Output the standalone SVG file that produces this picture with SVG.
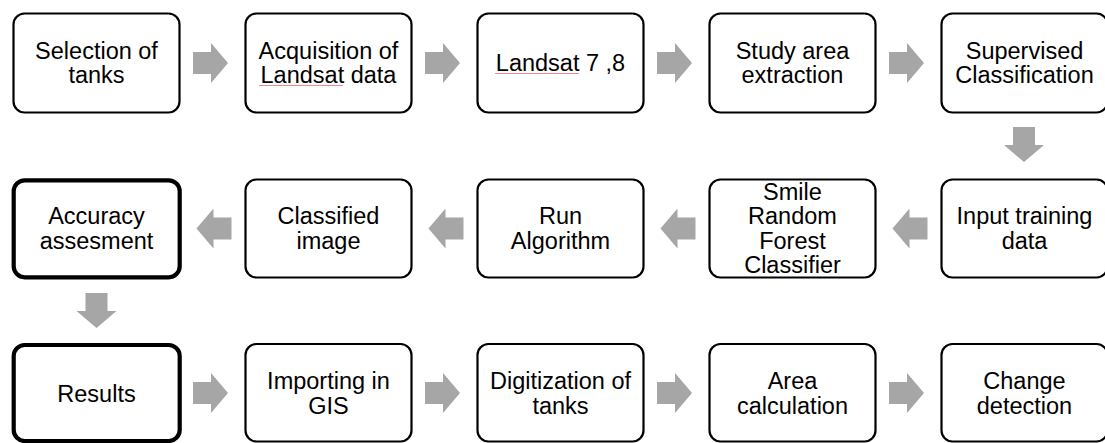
<svg xmlns="http://www.w3.org/2000/svg" width="1105" height="443" viewBox="0 0 1105 443">
<defs>
<style>
.box{fill:#fff;stroke:#000;stroke-width:2.2}
.bold{stroke-width:4.2}
.t{font-family:"Liberation Sans",Arial,sans-serif;font-size:23.5px;fill:#000;text-anchor:middle}
.arr{fill:#a6a6a6}
.sq{stroke:#f08a8a;stroke-width:1;fill:none}
</style>
<path id="ar" d="M-17.5,-11 H0.5 V-20 L17.5,0 L0.5,20 V11 H-17.5 Z"/>
</defs>
<rect width="1105" height="443" fill="#fff"/>
<g id="connectors" class="arr">
<use href="#ar" x="210.5" y="63"/>
<use href="#ar" x="442.5" y="63"/>
<use href="#ar" x="674.5" y="63"/>
<use href="#ar" x="906.5" y="63"/>
<use href="#ar" transform="translate(1024,144.5) rotate(90)"/>
<use href="#ar" transform="translate(910,228.5) rotate(180)"/>
<use href="#ar" transform="translate(678,228.5) rotate(180)"/>
<use href="#ar" transform="translate(446,228.5) rotate(180)"/>
<use href="#ar" transform="translate(214,228.5) rotate(180)"/>
<use href="#ar" transform="translate(96.5,310.5) rotate(90)"/>
<use href="#ar" x="210.5" y="393"/>
<use href="#ar" x="442.5" y="393"/>
<use href="#ar" x="674.5" y="393"/>
<use href="#ar" x="906.5" y="393"/>
</g>
<g id="n1"><rect class="box" x="13.5" y="13.5" width="166" height="99" rx="11"/><text class="t" x="96.5" y="58.5">Selection of</text><text class="t" x="96.5" y="83">tanks</text></g>
<g id="n2"><rect class="box" x="245.5" y="13.5" width="166" height="99" rx="11"/><text class="t" x="328.5" y="58.5">Acquisition of</text><text class="t" x="328.5" y="83">Landsat data</text></g>
<g id="n3"><rect class="box" x="477.5" y="13.5" width="166" height="99" rx="11"/><text class="t" x="560.5" y="71">Landsat 7 ,8</text></g>
<g id="n4"><rect class="box" x="709.5" y="13.5" width="166" height="99" rx="11"/><text class="t" x="792.5" y="58.5">Study area</text><text class="t" x="792.5" y="83">extraction</text></g>
<g id="n5"><rect class="box" x="941.5" y="13.5" width="166" height="99" rx="11"/><text class="t" x="1024.5" y="58.5">Supervised</text><text class="t" x="1024.5" y="83">Classification</text></g>
<g id="n6"><rect class="box bold" x="13.7" y="180.3" width="166" height="97" rx="11"/><text class="t" x="96.5" y="224">Accuracy</text><text class="t" x="96.5" y="248.5">assesment</text></g>
<g id="n7"><rect class="box" x="245.5" y="179.5" width="166" height="98" rx="11"/><text class="t" x="328.5" y="224">Classified</text><text class="t" x="328.5" y="248.5">image</text></g>
<g id="n8"><rect class="box" x="477.5" y="179.5" width="166" height="98" rx="11"/><text class="t" x="560.5" y="224">Run</text><text class="t" x="560.5" y="248.5">Algorithm</text></g>
<g id="n9"><rect class="box" x="709.5" y="179.5" width="166" height="98" rx="11"/><text class="t" x="792.5" y="199.5">Smile</text><text class="t" x="792.5" y="224">Random</text><text class="t" x="792.5" y="248.5">Forest</text><text class="t" x="792.5" y="273">Classifier</text></g>
<g id="n10"><rect class="box" x="941.5" y="179.5" width="166" height="98" rx="11"/><text class="t" x="1024.5" y="224">Input training</text><text class="t" x="1024.5" y="248.5">data</text></g>
<g id="n11"><rect class="box bold" x="13.7" y="345" width="166" height="96" rx="11"/><text class="t" x="96.5" y="402">Results</text></g>
<g id="n12"><rect class="box" x="245.5" y="344" width="166" height="97.5" rx="11"/><text class="t" x="328.5" y="389">Importing in</text><text class="t" x="328.5" y="413.5">GIS</text></g>
<g id="n13"><rect class="box" x="477.5" y="344" width="166" height="97.5" rx="11"/><text class="t" x="560.5" y="389">Digitization of</text><text class="t" x="560.5" y="413.5">tanks</text></g>
<g id="n14"><rect class="box" x="709.5" y="344" width="166" height="97.5" rx="11"/><text class="t" x="792.5" y="389">Area</text><text class="t" x="792.5" y="413.5">calculation</text></g>
<g id="n15"><rect class="box" x="941.5" y="344" width="166" height="97.5" rx="11"/><text class="t" x="1024.5" y="389">Change</text><text class="t" x="1024.5" y="413.5">detection</text></g>
<g id="spellmarks">
<path class="sq" d="M259,85.5 H343"/>
<path class="sq" d="M495,73.5 H579"/>
</g>
</svg>
